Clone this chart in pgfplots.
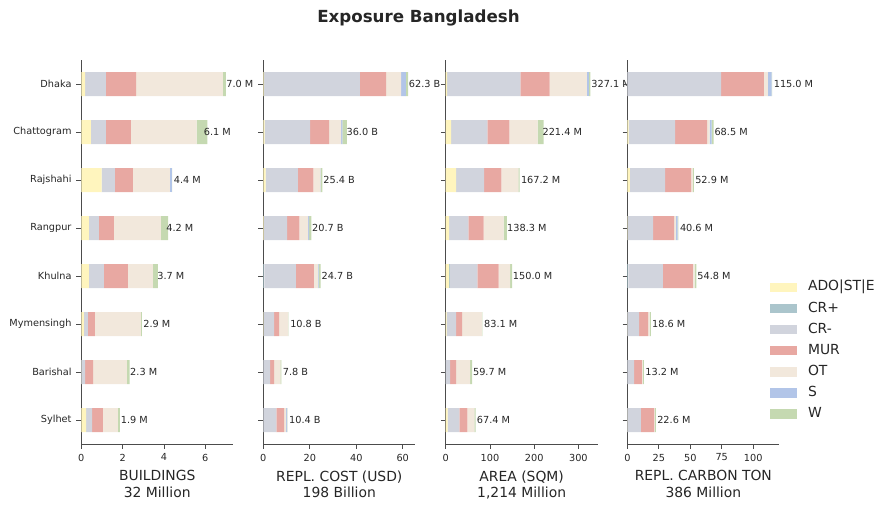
\documentclass[border=0pt]{standalone}
\usepackage{pgfplots}
\pgfplotsset{compat=1.18}
\usepackage{pgfplotstable}
\usepackage{fontspec}
\setmainfont{DejaVu Sans}

% occupancy class colours
\definecolor{cADO}{RGB}{255,245,190}
\definecolor{cCRp}{RGB}{171,197,204}
\definecolor{cCRm}{RGB}{209,212,221}
\definecolor{cMUR}{RGB}{232,168,162}
\definecolor{cOT}{RGB}{242,232,220}
\definecolor{cS}{RGB}{178,197,232}
\definecolor{cW}{RGB}{197,217,177}
\definecolor{ink}{RGB}{38,38,38}

% rows: 0 Dhaka ... 7 Sylhet
\pgfplotstableread[col sep=comma]{
idx,ado,crp,crm,mur,ot,s,w,lab
0,0.19,0,1.00,1.46,4.20,0,0.15,7.0 M
1,0.47,0,0.72,1.21,3.18,0,0.52,6.1 M
2,0.98,0,0.65,0.87,1.79,0.08,0.03,4.4 M
3,0.37,0,0.48,0.73,2.27,0,0.35,4.2 M
4,0.37,0,0.73,1.16,1.21,0,0.24,3.7 M
5,0.13,0,0.19,0.34,2.23,0,0.04,2.9 M
6,0.01,0,0.18,0.39,1.63,0,0.13,2.3 M
7,0.23,0,0.29,0.53,0.72,0,0.10,1.9 M
}\tbBuild

\pgfplotstableread[col sep=comma]{
idx,ado,crp,crm,mur,ot,s,w,lab
0,0.3,0,41.2,11.3,6.5,2.1,0.9,62.3 B
1,0.6,0,19.5,8.2,5.2,0.5,2.0,36.0 B
2,1.0,0,13.9,6.6,3.0,0.2,0.7,25.4 B
3,0.2,0,10.0,5.3,3.8,0.4,1.0,20.7 B
4,0,0.4,13.6,7.7,1.8,0.3,0.9,24.7 B
5,0.1,0,4.5,2.2,3.9,0,0.1,10.8 B
6,0,0,2.9,1.7,2.7,0,0.5,7.8 B
7,0,0,5.6,3.4,0.8,0.4,0.2,10.4 B
}\tbCost

\pgfplotstableread[col sep=comma]{
idx,ado,crp,crm,mur,ot,s,w,lab
0,3,0,166,66,84,4,4.1,327.1 M
1,12,0,82,50,64,0,13.4,221.4 M
2,23.5,0,63.5,39,38.5,0,2.7,167.2 M
3,7.5,0,43.5,34.5,45.5,0,7.3,138.3 M
4,7.5,2,62,48,26,0,4.5,150.0 M
5,2,0,21.5,13.5,45,0,1.1,83.1 M
6,0,0,10,13.5,32,0,4.2,59.7 M
7,4.5,0,26.5,18,16,0,2.4,67.4 M
}\tbArea

\pgfplotstableread[col sep=comma]{
idx,ado,crp,crm,mur,ot,s,w,lab
0,0,0,74.5,34,3.2,3,0.3,115.0 M
1,1.0,0,37,25.3,2,1.7,1.5,68.5 M
2,2,0,28,20.7,1.3,0,0.9,52.9 M
3,0.3,0,20.1,16.8,1.4,1.4,0.6,40.6 M
4,0,0.8,27.5,23.8,1.4,0,1.3,54.8 M
5,0.1,0,9.2,7.1,1.3,0,0.9,18.6 M
6,0,0,5.3,6.3,0.8,0,0.8,13.2 M
7,0.1,0,10.7,10.4,0.7,0,0.7,22.6 M
}\tbCarb

\pgfplotsset{
  panel/.style={
    scale only axis,
    width=109.4pt, height=276.5pt,
    anchor=south west,
    xbar stacked, bar width=0.5,
    y dir=reverse,
    ymin=-0.5, ymax=7.5,
    ytick={0,...,7},
    xmin=0,
    axis lines*=left,
    axis line style={draw=black!70, line width=0.7pt},
    tick style={draw=black!70, line width=0.6pt},
    tick align=outside,
    major tick length=3.5pt,
    /pgf/number format/assume math mode=true,
    tick label style={font=\fontsize{7}{8}\selectfont, text=ink},
    xlabel style={font=\fontsize{10}{12}\selectfont, text=ink, align=center},
    every axis plot/.append style={draw=none},
    legend image code/.code={\fill[##1] (0pt,-3.4pt) rectangle (19.6pt,3.4pt);},
  },
  lastbar/.style={
    fill=cW,
    nodes near coords,
    point meta=explicit symbolic,
    nodes near coords style={font=\fontsize{7}{8}\selectfont, text=ink, anchor=west, inner xsep=1.2pt},
  },
}

\newcommand{\stackrows}[1]{%
  \addplot[fill=cADO] table[x=ado,y=idx]{#1};
  \addplot[fill=cCRp] table[x=crp,y=idx]{#1};
  \addplot[fill=cCRm] table[x=crm,y=idx]{#1};
  \addplot[fill=cMUR] table[x=mur,y=idx]{#1};
  \addplot[fill=cOT] table[x=ot,y=idx]{#1};
  \addplot[fill=cS] table[x=s,y=idx]{#1};
  \addplot[lastbar] table[x=w,y=idx,meta=lab]{#1};
}

\begin{document}
\begin{tikzpicture}
\useasboundingbox (0,0) rectangle (640.8pt,367.2pt);

\node[font=\bfseries\fontsize{12}{14}\selectfont, text=ink] at (301.3pt,354.5pt) {Exposure Bangladesh};

\begin{axis}[panel, at={(58.5pt,47.5pt)},
  xmax=7.35, xtick={0,2,4,6},
  yticklabels={Dhaka,Chattogram,Rajshahi,Rangpur,Khulna,Mymensingh,Barishal,Sylhet},
  xlabel={BUILDINGS\\32 Million}]
\stackrows{\tbBuild}
\end{axis}

\begin{axis}[panel, at={(189.6pt,47.5pt)},
  xmax=65.4, xtick={0,20,40,60},
  yticklabels={},
  xlabel={REPL. COST (USD)\\198 Billion}]
\stackrows{\tbCost}
\end{axis}

\begin{axis}[panel, at={(320.9pt,47.5pt)},
  xmax=343.5, xtick={0,100,200,300},
  yticklabels={},
  xlabel={AREA (SQM)\\1,214 Million}]
\stackrows{\tbArea}
\end{axis}

\begin{axis}[panel, at={(451.7pt,47.5pt)},
  xmax=120.75, xtick={0,25,50,75,100},
  yticklabels={},
  xlabel={REPL. CARBON TON\\386 Million},
  legend style={at={(0.935,0.432)}, anchor=north west, draw=none, fill=none,
    font=\fontsize{10}{12}\selectfont, text=ink, inner sep=0pt,
    nodes={inner sep=1.5pt, text height=7.5pt, text depth=2.5pt},
    row sep=2.2pt,
    /tikz/every odd column/.append style={column sep=6.5pt}},
  legend cell align=left]
\stackrows{\tbCarb}
\legend{ADO|ST|E,CR+,CR-,MUR,OT,S,W}
\end{axis}
\end{tikzpicture}
\end{document}
